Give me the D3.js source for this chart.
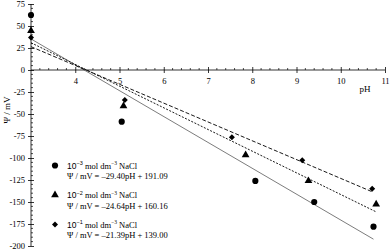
<!DOCTYPE html>
<html>
<head>
<meta charset="utf-8">
<script src="https://cdn.jsdelivr.net/npm/d3@7"></script>
<style>
  body { margin: 0; background: #fff; }
  svg text { font-family: "Liberation Serif", "Times New Roman", serif; fill: #000; }
</style>
</head>
<body>
<div id="chart"></div>
<script>
// data
var phLow = [3.0, 5.05, 8.07, 9.40, 10.74],
    psiLow = [62.5, -58.7, -126, -150, -178];
var phMid = [3.0, 5.09, 7.85, 9.27, 10.80],
    psiMid = [44.7, -41, -96.6, -126, -152.6];
var phHigh = [3.0, 5.12, 7.54, 9.13, 10.71],
    psiHigh = [37, -34, -76.5, -102.6, -135];

// fitted lines as drawn (slope, intercept in plot units)
var fitSlopes = [-29.40, -24.64, -21.39],
    fitIntercepts = [123.5, 104.9, 90.7];

var concLabels = ["\u22123", "\u22122", "\u22121"];
var eqLabels = ["\u201329.40pH + 191.09", "\u201324.64pH + 160.16", "\u201321.39pH + 139.00"];

var xTicks = [4, 5, 6, 7, 8, 9, 10, 11],
    yTicks = [75, 50, 25, 0, -25, -50, -75, -100, -125, -150, -175, -200];

var width = 390, height = 251;

var x = d3.scaleLinear().domain([3, 11]).range([31, 385]);
var y = d3.scaleLinear().domain([-200, 75]).range([246, 4]);

var svg = d3.select("#chart").append("svg")
    .attr("width", width)
    .attr("height", height);

// x axis at psi = 0
var xAxis = svg.append("g")
    .attr("transform", "translate(0," + y(0) + ")")
    .call(d3.axisBottom(x).tickValues(xTicks).tickSize(3).tickPadding(5));
xAxis.select(".domain").attr("d", "M" + x(3) + ",0H" + x(11)).attr("stroke-width", 0.8);
xAxis.selectAll(".tick line").attr("y1", -3).attr("stroke-width", 0.8);
xAxis.selectAll(".tick text").attr("font-size", 8.5);

var xMinor = d3.range(3.2, 11, 0.2).filter(function (d) { return Math.abs(d - Math.round(d)) > 0.01; });
svg.append("g").selectAll("line")
    .data(xMinor)
    .enter().append("line")
    .attr("x1", function (d) { return x(d); })
    .attr("x2", function (d) { return x(d); })
    .attr("y1", y(0) - 2)
    .attr("y2", y(0))
    .attr("stroke", "#000")
    .attr("stroke-width", 0.7);

// y axis at pH = 3
var yAxis = svg.append("g")
    .attr("transform", "translate(" + x(3) + ",0)")
    .call(d3.axisLeft(y).tickValues(yTicks).tickSize(3).tickPadding(3)
        .tickFormat(function (d) { return String(d); }));
yAxis.select(".domain").attr("d", "M0," + y(75) + "V" + y(-200)).attr("stroke-width", 0.8);
yAxis.selectAll(".tick line").attr("x2", 3).attr("x1", -3).attr("stroke-width", 0.8);
yAxis.selectAll(".tick text").attr("font-size", 8.5);

var yMinor = d3.range(-195, 75, 5).filter(function (d) { return d % 25 !== 0; });
svg.append("g").selectAll("line")
    .data(yMinor)
    .enter().append("line")
    .attr("x1", x(3))
    .attr("x2", x(3) + 2)
    .attr("y1", function (d) { return y(d); })
    .attr("y2", function (d) { return y(d); })
    .attr("stroke", "#000")
    .attr("stroke-width", 0.7);

// axis titles
svg.append("text")
    .attr("x", 365).attr("y", 92)
    .attr("text-anchor", "middle")
    .attr("font-size", 9)
    .text("pH");

svg.append("text")
    .attr("transform", "translate(10,110) rotate(-90)")
    .attr("text-anchor", "middle")
    .attr("font-size", 9)
    .text("\u03A8 / mV");

// fit lines
var series = [
    { ph: phLow, psi: psiLow, sym: d3.symbolCircle, size: 30, rot: 0, dash: null, color: "#444", w: 0.7 },
    { ph: phMid, psi: psiMid, sym: d3.symbolTriangle, size: 26, rot: 0, dash: "2,1.5", color: "#000", w: 0.9 },
    { ph: phHigh, psi: psiHigh, sym: d3.symbolSquare, size: 18, rot: 45, dash: "4,2", color: "#000", w: 0.9 }
];

series.forEach(function (s, i) {
    var x0 = s.ph[0], x1 = s.ph[s.ph.length - 1];
    svg.append("line")
        .attr("x1", x(x0))
        .attr("y1", y(fitSlopes[i] * x0 + fitIntercepts[i]))
        .attr("x2", x(x1))
        .attr("y2", y(fitSlopes[i] * x1 + fitIntercepts[i]))
        .attr("stroke", s.color)
        .attr("stroke-width", s.w)
        .attr("stroke-dasharray", s.dash);
});

// points
series.forEach(function (s) {
    svg.append("g").selectAll("path")
        .data(s.ph.map(function (p, j) { return [p, s.psi[j]]; }))
        .enter().append("path")
        .attr("transform", function (d) {
            return "translate(" + x(d[0]) + "," + y(d[1]) + ") rotate(" + s.rot + ")";
        })
        .attr("d", d3.symbol().type(s.sym).size(s.size))
        .attr("fill", "#000");
});

// legend
var legend = svg.append("g");
series.forEach(function (s, i) {
    var cy = 165.5 + i * 29.5;
    legend.append("path")
        .attr("transform", "translate(55," + cy + ") rotate(" + s.rot + ")")
        .attr("d", d3.symbol().type(s.sym).size(s.size))
        .attr("fill", "#000");

    var t1 = legend.append("text")
        .attr("x", 67).attr("y", cy + 3)
        .attr("font-size", 8.5);
    t1.append("tspan").style("font-family", "'Liberation Sans', Arial, sans-serif").text("10");
    t1.append("tspan").style("font-family", "'Liberation Sans', Arial, sans-serif")
        .attr("font-size", 5.5).attr("dy", -3.5).text(concLabels[i]);
    t1.append("tspan").attr("dy", 3.5).text(" mol dm");
    t1.append("tspan").attr("font-size", 5.5).attr("dy", -3.5).text("\u22123");
    t1.append("tspan").attr("dy", 3.5).text(" NaCl");

    legend.append("text")
        .attr("x", 67).attr("y", cy + 13.5)
        .attr("font-size", 8.5)
        .text("\u03A8 / mV = " + eqLabels[i]);
});
</script>
</body>
</html>
